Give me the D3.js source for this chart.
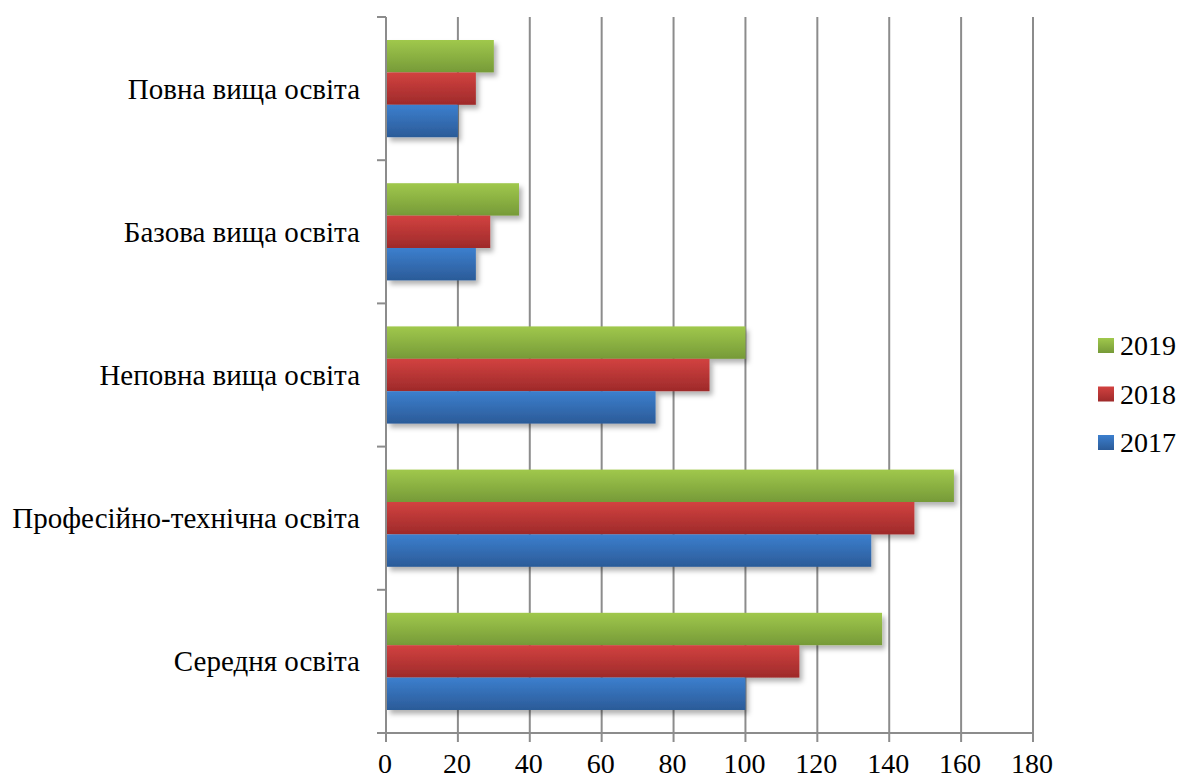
<!DOCTYPE html>
<html>
<head>
<meta charset="utf-8">
<script src="https://cdn.jsdelivr.net/npm/d3@7"></script>
<style>
  body { margin: 0; background: #fff; }
</style>
</head>
<body>
<div id="chart"></div>
<script>
var categories = ["Повна вища освіта", "Базова вища освіта", "Неповна вища освіта", "Професійно-технічна освіта", "Середня освіта"];
var years = ["2019", "2018", "2017"];
var v2019 = [30, 37, 100, 158, 138];
var v2018 = [25, 29, 90, 147, 115];
var v2017 = [20, 25, 75, 135, 100];
var xTicks = [0, 20, 40, 60, 80, 100, 120, 140, 160, 180];

var seriesVals = { "2019": v2019, "2018": v2018, "2017": v2017 };
var colors = {
  "2019": ["#a0c84c", "#769a38"],
  "2018": ["#d24240", "#9e2a2a"],
  "2017": ["#3c7fce", "#2b5b98"]
};
var font = "'Liberation Serif', 'Times New Roman', serif";

var W = 1181, H = 780;
var svg = d3.select("#chart").append("svg").attr("width", W).attr("height", H)
  .attr("font-family", font);

var defs = svg.append("defs");
years.forEach(function(y) {
  var g = defs.append("linearGradient").attr("id", "g" + y)
    .attr("x1", 0).attr("y1", 0).attr("x2", 0).attr("y2", 1);
  g.append("stop").attr("offset", "0%").attr("stop-color", colors[y][0]);
  g.append("stop").attr("offset", "100%").attr("stop-color", colors[y][1]);
});
var f = defs.append("filter").attr("id", "shadow").attr("x", "-5%").attr("y", "-20%").attr("width", "120%").attr("height", "160%");
f.append("feDropShadow").attr("dx", 3).attr("dy", 4).attr("stdDeviation", 2.5).attr("flood-color", "#000").attr("flood-opacity", 0.3);

var x = d3.scaleLinear().domain([0, 180]).range([386, 1033]);
var y = d3.scaleBand().domain(categories).range([17, 733]);
var inner = d3.scaleBand().domain(years).range([23, y.bandwidth() - 23]);

// gridlines
svg.append("g").selectAll("line").data(xTicks.slice(1)).enter().append("line")
  .attr("x1", function(d) { return x(d); }).attr("x2", function(d) { return x(d); })
  .attr("y1", 17).attr("y2", 733)
  .attr("stroke", "#8c8c8c").attr("stroke-width", 2);

// bars
var group = svg.append("g").selectAll("g").data(categories).enter().append("g")
  .attr("transform", function(d) { return "translate(0," + y(d) + ")"; });

years.forEach(function(yr) {
  group.append("rect")
    .attr("x", x(0) + 1)
    .attr("y", function(d) { return inner(yr); })
    .attr("width", function(d, i) { return x(seriesVals[yr][i]) - x(0) - 1; })
    .attr("height", inner.bandwidth())
    .attr("fill", "url(#g" + yr + ")")
    .attr("filter", "url(#shadow)");
});

// y axis
var yAxis = svg.append("g");
yAxis.append("line").attr("x1", 386).attr("x2", 386).attr("y1", 17).attr("y2", 742)
  .attr("stroke", "#8c8c8c").attr("stroke-width", 2);
var yTickPos = categories.map(function(c) { return y(c); }).concat([733]);
yAxis.selectAll("line.t").data(yTickPos).enter().append("line").attr("class", "t")
  .attr("x1", 377).attr("x2", 386)
  .attr("y1", function(d) { return d; }).attr("y2", function(d) { return d; })
  .attr("stroke", "#8c8c8c").attr("stroke-width", 2);
yAxis.selectAll("text").data(categories).enter().append("text")
  .attr("x", 360)
  .attr("y", function(d) { return y(d) + y.bandwidth() / 2 + 10; })
  .attr("text-anchor", "end")
  .attr("font-size", 29)
  .attr("fill", "#000")
  .text(function(d) { return d; });

// x axis
var xAxis = svg.append("g");
xAxis.append("line").attr("x1", 377).attr("x2", 1033).attr("y1", 733).attr("y2", 733)
  .attr("stroke", "#8c8c8c").attr("stroke-width", 2);
xAxis.selectAll("line.t").data(xTicks).enter().append("line").attr("class", "t")
  .attr("x1", function(d) { return x(d); }).attr("x2", function(d) { return x(d); })
  .attr("y1", 733).attr("y2", 742)
  .attr("stroke", "#8c8c8c").attr("stroke-width", 2);
xAxis.selectAll("text").data(xTicks).enter().append("text")
  .attr("x", function(d) { return x(d) - 1; })
  .attr("y", 773)
  .attr("text-anchor", "middle")
  .attr("font-size", 28)
  .attr("fill", "#000")
  .text(function(d) { return d; });

// legend
var legend = svg.append("g").selectAll("g").data(years).enter().append("g")
  .attr("transform", function(d, i) { return "translate(1098," + (338 + i * 48.5) + ")"; });
legend.append("rect").attr("width", 16).attr("height", 15)
  .attr("fill", function(d) { return "url(#g" + d + ")"; });
legend.append("text").attr("x", 22).attr("y", 17).attr("font-size", 28)
  .attr("fill", "#000")
  .text(function(d) { return d; });
</script>
</body>
</html>
